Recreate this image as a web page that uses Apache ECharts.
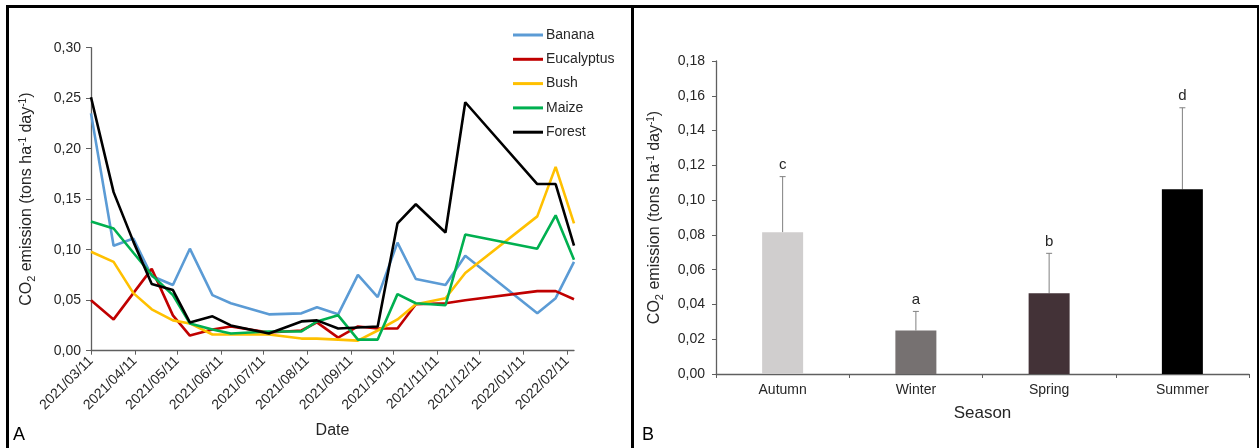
<!DOCTYPE html>
<html>
<head>
<meta charset="utf-8">
<style>
  html, body { margin: 0; padding: 0; background: #ffffff; }
  #chart { width: 1260px; height: 448px; }
</style>
<script src="https://cdn.jsdelivr.net/npm/echarts@6/dist/echarts.min.js"></script>
</head>
<body>
<div id="chart"></div>
<script>
// ---- Panel A: CO2 emission per land use over time ----
const sampleDates = ['2021-03-11','2021-03-27','2021-04-10','2021-04-23','2021-05-08','2021-05-20',
  '2021-06-05','2021-06-18','2021-07-15','2021-08-07','2021-08-18','2021-09-02','2021-09-16',
  '2021-09-30','2021-10-14','2021-10-27','2021-11-17','2021-12-01','2022-01-21','2022-02-03','2022-02-16'];
const banana     = [0.235,0.104,0.111,0.074,0.065,0.101,0.055,0.047,0.036,0.037,0.043,0.036,0.075,0.053,0.107,0.071,0.065,0.094,0.037,0.052,0.088];
const eucalyptus = [0.050,0.031,0.057,0.081,0.035,0.015,0.021,0.024,0.018,0.020,0.028,0.013,0.024,0.022,0.022,0.046,0.047,0.050,0.059,0.059,0.051];
const bush       = [0.098,0.088,0.057,0.041,0.030,0.027,0.016,0.016,0.016,0.012,0.012,0.011,0.010,0.020,0.031,0.046,0.052,0.077,0.133,0.182,0.126];
const maize      = [0.128,0.121,0.097,0.075,0.055,0.027,0.021,0.017,0.019,0.019,0.029,0.035,0.011,0.011,0.056,0.047,0.045,0.115,0.101,0.134,0.090];
const forest     = [0.251,0.157,0.108,0.066,0.060,0.028,0.034,0.025,0.017,0.029,0.030,0.022,0.023,0.024,0.126,0.145,0.117,0.246,0.165,0.165,0.104];
const dateTicks  = ['2021-03-11','2021-04-11','2021-05-11','2021-06-11','2021-07-11','2021-08-11',
  '2021-09-11','2021-10-11','2021-11-11','2021-12-11','2022-01-11','2022-02-11'];
const dateAxisStart = '2021-03-11';
const dateAxisEnd   = '2022-02-16';

// ---- Panel B: seasonal means with standard deviation ----
const seasons     = ['Autumn','Winter','Spring','Summer'];
const seasonMean  = [0.0815, 0.0250, 0.0464, 0.1062];
const seasonSD    = [0.0320, 0.0110, 0.0230, 0.0469];
const seasonGroup = ['c','a','b','d'];

const FONT = '"Liberation Sans", Arial, sans-serif';
const TEXT = '#262626';
const AXIS = '#5f5f5f';
const seasonColors = ['#d0cece', '#767171', '#433237', '#000000'];

// dates are placed on a linear day scale (milliseconds, local time)
function toTime(s) {
  const p = s.split('-').map(Number);
  return new Date(p[0], p[1] - 1, p[2]).getTime();
}
function pad(n) { return n < 10 ? '0' + n : '' + n; }
function fmtDate(v) {
  const d = new Date(v);
  return d.getFullYear() + '/' + pad(d.getMonth() + 1) + '/' + pad(d.getDate());
}
function comma(v) { return v.toFixed(2).replace('.', ','); }

const nameRich = {
  base: { fontSize: 16, fontFamily: FONT, color: TEXT, lineHeight: 22, verticalAlign: 'middle' },
  sub:  { fontSize: 11, fontFamily: FONT, color: TEXT, lineHeight: 22, verticalAlign: 'bottom', padding: [0, 0, 1, 0] },
  sup:  { fontSize: 10, fontFamily: FONT, color: TEXT, lineHeight: 22, verticalAlign: 'top', padding: [2, 0, 0, 0] }
};
const co2Name = '{base|CO}{sub|2}{base| emission (tons ha}{sup|-1}{base| day}{sup|-1}{base|)}';

function lineSeries(name, values, color) {
  return {
    name: name, type: 'line', xAxisIndex: 0, yAxisIndex: 0,
    data: sampleDates.map((d, i) => [toTime(d), values[i]]),
    symbol: 'none', smooth: false,
    lineStyle: { color: color, width: 2.6 },
    itemStyle: { color: color },
    z: 3
  };
}

const tickTimes = dateTicks.map(toTime);

const option = {
  animation: false,
  backgroundColor: '#ffffff',
  textStyle: { fontFamily: FONT, color: TEXT },
  grid: [
    { left: 91, top: 47.7, width: 483, height: 303 },
    { left: 716, top: 61, width: 533, height: 313 }
  ],
  legend: {
    orient: 'vertical', left: 513, top: 27, padding: 0,
    icon: 'rect', itemWidth: 30, itemHeight: 3, itemGap: 8.3,
    textStyle: { fontSize: 14, fontFamily: FONT, color: TEXT, padding: [0, 0, 0, -2], lineHeight: 16 },
    data: ['Banana', 'Eucalyptus', 'Bush', 'Maize', 'Forest']
  },
  xAxis: [
    {
      type: 'value', gridIndex: 0,
      min: toTime(dateAxisStart), max: toTime(dateAxisEnd),
      name: 'Date', nameLocation: 'middle', nameGap: 72,
      nameTextStyle: { fontSize: 16, fontFamily: FONT, color: TEXT },
      axisLine: { show: true, onZero: false, lineStyle: { color: AXIS, width: 1.3 } },
      axisTick: { show: true, length: 4, customValues: tickTimes, lineStyle: { color: AXIS } },
      axisLabel: {
        customValues: tickTimes, rotate: 45, margin: 8,
        fontSize: 14, fontFamily: FONT, color: TEXT,
        formatter: fmtDate
      },
      splitLine: { show: false }, minorTick: { show: false }
    },
    {
      type: 'category', gridIndex: 1, data: seasons,
      name: 'Season', nameLocation: 'middle', nameGap: 31,
      nameTextStyle: { fontSize: 17, fontFamily: FONT, color: TEXT },
      axisLine: { show: true, onZero: false, lineStyle: { color: AXIS, width: 1.3 } },
      axisTick: { show: true, length: 4, alignWithLabel: false, lineStyle: { color: AXIS } },
      axisLabel: { fontSize: 14, fontFamily: FONT, color: TEXT, margin: 9 },
      splitLine: { show: false }
    }
  ],
  yAxis: [
    {
      type: 'value', gridIndex: 0, min: 0, max: 0.3, interval: 0.05,
      name: co2Name, nameLocation: 'middle', nameGap: 53, nameRotate: 90,
      nameTextStyle: { rich: nameRich },
      axisLine: { show: true, onZero: false, lineStyle: { color: AXIS, width: 1.3 } },
      axisTick: { show: true, length: 5, lineStyle: { color: AXIS } },
      axisLabel: { fontSize: 14, fontFamily: FONT, color: TEXT, margin: 10, formatter: comma },
      splitLine: { show: false }
    },
    {
      type: 'value', gridIndex: 1, min: 0, max: 0.18, interval: 0.02,
      name: co2Name, nameLocation: 'middle', nameGap: 50, nameRotate: 90,
      nameTextStyle: { rich: nameRich },
      axisLine: { show: true, onZero: false, lineStyle: { color: AXIS, width: 1.3 } },
      axisTick: { show: true, length: 4, lineStyle: { color: AXIS } },
      axisLabel: { fontSize: 14, fontFamily: FONT, color: TEXT, margin: 11, formatter: comma },
      splitLine: { show: false }
    }
  ],
  series: [
    lineSeries('Banana', banana, '#5b9bd5'),
    lineSeries('Eucalyptus', eucalyptus, '#c00000'),
    lineSeries('Bush', bush, '#ffc000'),
    lineSeries('Maize', maize, '#00b050'),
    lineSeries('Forest', forest, '#000000'),
    {
      name: 'Season mean', type: 'bar', xAxisIndex: 1, yAxisIndex: 1,
      barWidth: 41,
      data: seasonMean.map((v, i) => ({ value: v, itemStyle: { color: seasonColors[i] } })),
      z: 3
    },
    {
      name: 'Season SD', type: 'custom', xAxisIndex: 1, yAxisIndex: 1,
      data: seasonMean.map((v, i) => [i, v, v + seasonSD[i]]),
      encode: { x: 0, y: [1, 2] },
      renderItem: function (params, api) {
        const base = api.coord([api.value(0), api.value(1)]);
        const top = api.coord([api.value(0), api.value(2)]);
        const letter = seasonGroup[params.dataIndex];
        const stroke = { stroke: '#808080', lineWidth: 1 };
        return {
          type: 'group',
          children: [
            { type: 'line', shape: { x1: base[0], y1: base[1], x2: top[0], y2: top[1] }, style: stroke },
            { type: 'line', shape: { x1: top[0] - 3, y1: top[1], x2: top[0] + 3, y2: top[1] }, style: stroke },
            { type: 'text', x: top[0], y: top[1] - 4,
              style: { text: letter, align: 'center', verticalAlign: 'bottom',
                       fontSize: 15, fontFamily: FONT, fill: TEXT } }
          ]
        };
      },
      z: 2
    }
  ],
  graphic: [
    { type: 'rect', shape: { x: 6, y: 5, width: 1253, height: 3 }, style: { fill: '#000' }, silent: true },
    { type: 'rect', shape: { x: 6, y: 5, width: 3, height: 443 }, style: { fill: '#000' }, silent: true },
    { type: 'rect', shape: { x: 631, y: 5, width: 3, height: 443 }, style: { fill: '#000' }, silent: true },
    { type: 'rect', shape: { x: 1257, y: 5, width: 2, height: 443 }, style: { fill: '#000' }, silent: true },
    { type: 'text', x: 13, y: 426, style: { text: 'A', fontSize: 18, fontFamily: FONT, fill: '#000' }, silent: true },
    { type: 'text', x: 642, y: 426, style: { text: 'B', fontSize: 18, fontFamily: FONT, fill: '#000' }, silent: true }
  ]
};

const chart = echarts.init(document.getElementById('chart'), null, { renderer: 'canvas' });
chart.setOption(option);
</script>
</body>
</html>
